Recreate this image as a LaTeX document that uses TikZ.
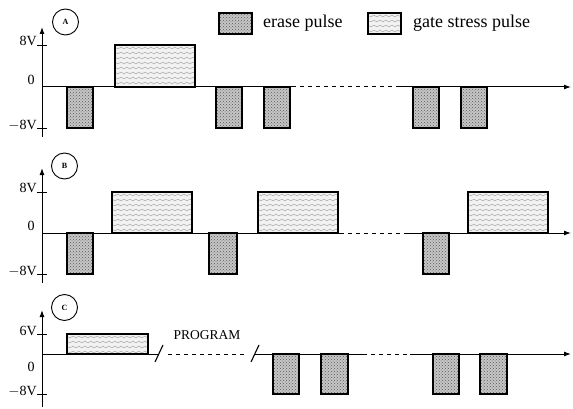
\documentclass[tikz,border=0pt]{standalone}
\usepackage{fontspec}
\setmainfont{Liberation Serif}
\usetikzlibrary{patterns,decorations.pathmorphing,arrows.meta}
\tikzset{
  axisline/.style={line width=1pt,black},
  axisarrow/.style={line width=1pt,black,-{Latex[length=7pt,width=5pt]}},
  dashaxis/.style={line width=1pt,black,dash pattern=on 3.5pt off 4.5pt},
  tickline/.style={line width=0.8pt,black},
  pulseedge/.style={line width=1.1pt,black},
  ylabel/.style={anchor=east,inner sep=0pt,font=\fontsize{14}{16}\selectfont},
  zerolabel/.style={inner sep=0pt,font=\fontsize{14}{16}\selectfont},
  progtext/.style={inner sep=0pt,font=\fontsize{13.5}{15}\selectfont},
  legendtext/.style={anchor=west,inner sep=0pt,font=\fontsize{18}{20}\selectfont},
  panelcircle/.style={circle,draw,line width=0.9pt,minimum size=26pt,inner sep=0pt,font=\fontsize{8}{9}\selectfont\bfseries},
  slashline/.style={line width=1.1pt,black},
}
\newcommand{\erasebox}[4]{%
  \fill[gray!45] (#1,#2) rectangle (#3,#4);
  \fill[pattern=crosshatch dots,pattern color=gray!70!black] (#1,#2) rectangle (#3,#4);
  \draw[pulseedge] (#1,#2) rectangle (#3,#4);}
\newcommand{\gatebox}[4]{%
  \fill[gray!10] (#1,#2) rectangle (#3,#4);
  \begin{scope}
    \clip (#1,#2) rectangle (#3,#4);
    \foreach \yy in {-3,-8,...,-60}{
      \draw[gray!75,line width=0.45pt,decorate,decoration={snake,segment length=6pt,amplitude=0.9pt}]
        ([yshift=\yy pt]#1-2,#2) -- ([yshift=\yy pt]#3+2,#2);
    }
  \end{scope}
  \draw[pulseedge] (#1,#2) rectangle (#3,#4);}
\begin{document}
\begin{tikzpicture}[x=1pt,y=-1pt]
\useasboundingbox (0,0) rectangle (573,409);

% ---------------- Legend ----------------
\erasebox{219}{13}{252}{34}
\node[legendtext] (legE) at (263,23) {erase pulse};
\gatebox{368}{13}{401}{34}
\node[legendtext] (legG) at (413,23) {gate stress pulse};

% ---------------- Panel A ----------------
\node[panelcircle] (cA) at (65.5,22) {A};
\coordinate (A0) at (42,137);
\coordinate (A1) at (42,27);
\draw[axisarrow] (A0) -- (A1);
\draw[tickline] (37,45) -- (47,45);
\draw[tickline] (37,128) -- (47,128);
\node[ylabel] (A8) at (37,41) {8V};
\node[ylabel] (Am8) at (37,125) {$-$8V};
\node[zerolabel] (Az) at (31,80) {0};
\gatebox{115}{45}{195}{87}
\erasebox{67}{87}{93}{128}
\erasebox{216}{87}{242}{128}
\erasebox{264}{87}{290}{128}
\erasebox{413}{87}{439}{128}
\erasebox{461}{87}{487}{128}
\coordinate (Ah0) at (42,87);
\coordinate (Ah1) at (292,87);
\coordinate (Ah2) at (398,87);
\coordinate (Ah3) at (571,87);
\draw[axisline] (Ah0) -- (Ah1);
\draw[dashaxis] (Ah1) -- (Ah2);
\draw[axisarrow] (Ah2) -- (Ah3);

% ---------------- Panel B ----------------
\node[panelcircle] (cB) at (64.5,166) {B};
\coordinate (B0) at (42,283);
\coordinate (B1) at (42,168);
\draw[axisarrow] (B0) -- (B1);
\draw[tickline] (37,192) -- (47,192);
\draw[tickline] (37,274) -- (47,274);
\node[ylabel] (B8) at (37,188) {8V};
\node[ylabel] (Bm8) at (37,271) {$-$8V};
\node[zerolabel] (Bz) at (31,226) {0};
\gatebox{112}{192}{192}{233}
\gatebox{258}{192}{338}{233}
\gatebox{468}{192}{548}{233}
\erasebox{67}{233}{93}{274}
\erasebox{209}{233}{237}{274}
\erasebox{423}{233}{449}{274}
\coordinate (Bh0) at (42,233);
\coordinate (Bh1) at (340,233);
\coordinate (Bh2) at (408,233);
\coordinate (Bh3) at (571,233);
\draw[axisline] (Bh0) -- (Bh1);
\draw[dashaxis] (Bh1) -- (Bh2);
\draw[axisarrow] (Bh2) -- (Bh3);

% ---------------- Panel C ----------------
\node[panelcircle] (cC) at (64.5,307.5) {C};
\coordinate (C0) at (42,407);
\coordinate (C1) at (42,310);
\draw[axisarrow] (C0) -- (C1);
\draw[tickline] (37,334) -- (47,334);
\draw[tickline] (37,394) -- (47,394);
\node[ylabel] (C6) at (37,331) {6V};
\node[ylabel] (Cm8) at (37,391) {$-$8V};
\node[zerolabel] (Cz) at (31,367) {0};
\gatebox{67}{334}{148}{354}
\erasebox{273}{354}{299}{394}
\erasebox{321}{354}{348}{394}
\erasebox{433}{354}{459}{394}
\erasebox{480}{354}{507}{394}
\coordinate (Ch0) at (42,354);
\coordinate (Ch1) at (159,354);
\coordinate (Ch2) at (168,354);
\coordinate (Ch3) at (247,354);
\coordinate (Ch4) at (255,354);
\coordinate (Ch5) at (363,354);
\coordinate (Ch6) at (410,354);
\coordinate (Ch7) at (571,354);
\draw[axisline] (Ch0) -- (Ch1);
\draw[dashaxis] (Ch2) -- (Ch3);
\draw[axisline] (Ch4) -- (Ch5);
\draw[dashaxis] (Ch5) -- (Ch6);
\draw[axisarrow] (Ch6) -- (Ch7);
\draw[slashline] ([xshift=-4pt,yshift=-8pt]Ch1) -- ([xshift=4pt,yshift=9pt]Ch1);
\draw[slashline] ([xshift=-4pt,yshift=-8pt]Ch4) -- ([xshift=4pt,yshift=9pt]Ch4);
\node[progtext] (prog) at (207,335) {PROGRAM};
\end{tikzpicture}
\end{document}
